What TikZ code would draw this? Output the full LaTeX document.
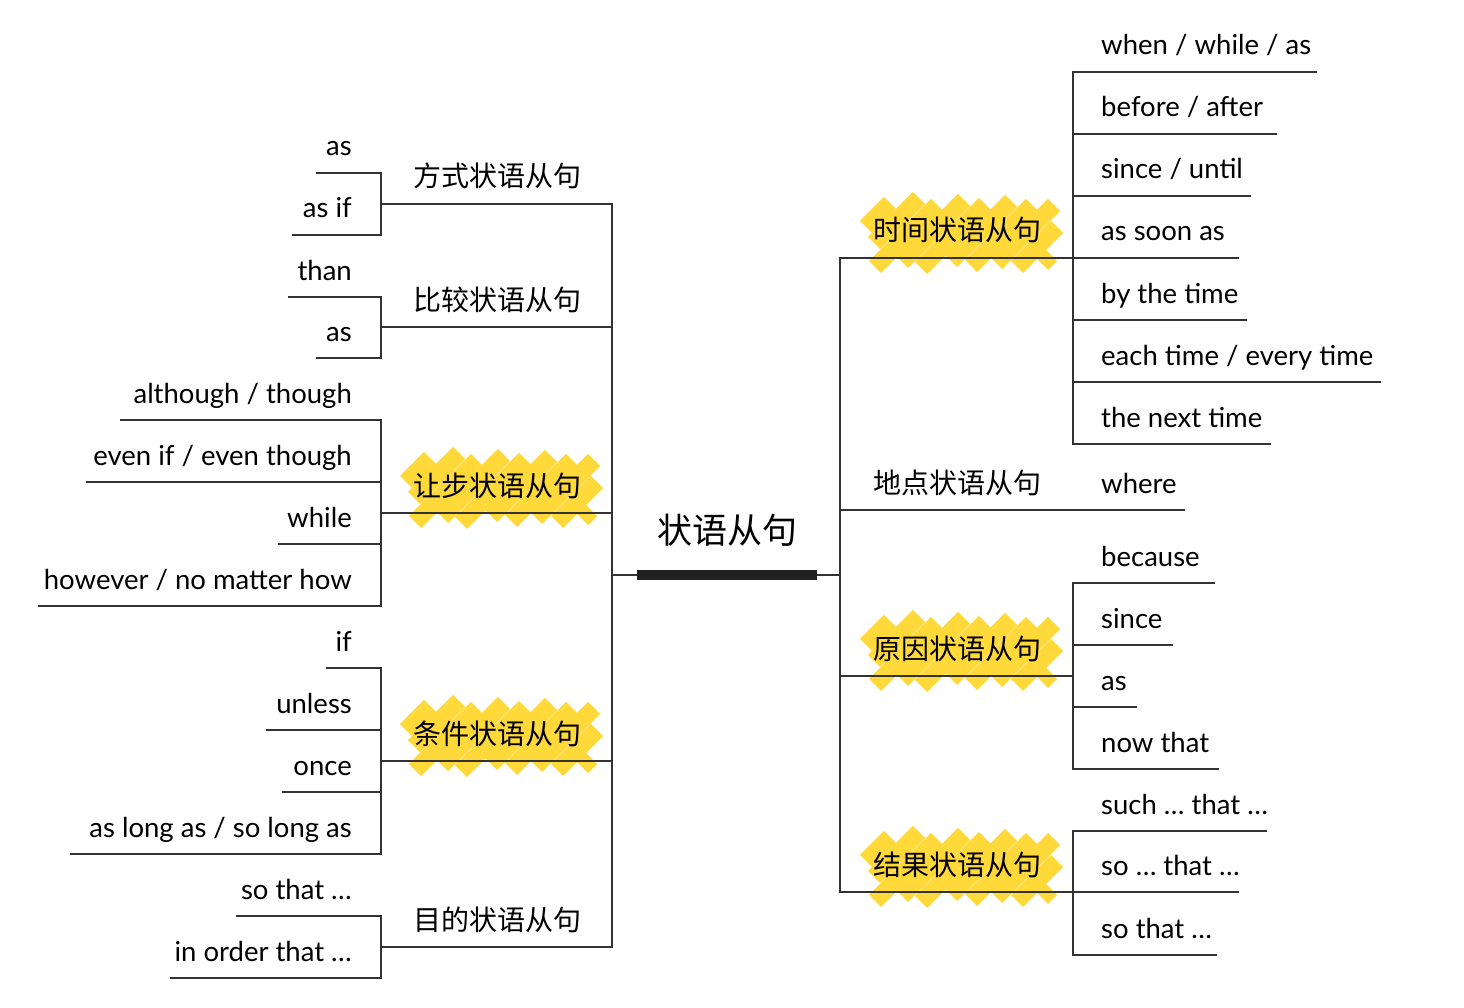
\documentclass[tikz,border=0pt]{standalone}
\usepackage{fontspec}
\setmainfont{Lato}
\newfontfamily\cjk{Noto Sans CJK SC}
\definecolor{lnc}{HTML}{333333}
\definecolor{hlc}{HTML}{FFD83A}
\newcommand\hlmark[1]{%
  \begin{scope}[shift={(#1)}]
    \foreach \xc/\ra/\rb/\rc/\rd in {-98/3/2/0/6,-74/0/7/8/0,-49/6/0/2/3,-27/1/5/0/0,-2/7/1/3/2,21/0/4/0/7,46/5/0/2/0,68/2/7/0/3,93/6/2/5/0,115/3/0/0/6}{
      \pgfmathsetmacro\hb{min(28+\ra, \xc+92-\rc)}
      \pgfmathsetmacro\htp{min(28+\rb, 99-\xc-\rd)}
      \pgfmathsetmacro\lenx{\hb+\htp}
      \pgfmathsetmacro\bx{\xc-(\hb)}
      \pgfmathsetmacro\tx{\xc+\htp}
      \pgfmathsetmacro\ty{0-(\htp)}
      \ifdim\lenx pt>8pt \draw[hlstroke] (\bx,\hb) -- (\tx,\ty); \fi
    }
  \end{scope}}
\begin{document}
\begin{tikzpicture}[x=1pt,y=-1pt,
  conn/.style={draw=lnc, line width=2.4pt, line cap=rect},
  bar/.style={draw=black!87, line width=10pt},
  hlstroke/.style={draw=hlc, line width=17pt},
  lt/.style={font=\fontsize{27.5}{32}\selectfont, anchor=base east, inner sep=0pt},
  rt/.style={font=\fontsize{27.5}{32}\selectfont, anchor=base west, inner sep=0pt},
  br/.style={font=\cjk\fontsize{28}{34}\selectfont, anchor=base, inner sep=0pt},
  ctr/.style={font=\cjk\fontsize{35}{40}\selectfont, anchor=base, inner sep=0pt}]
\useasboundingbox (0,0) rectangle (1464,1008);
\fill[white] (0,0) rectangle (1464,1008);

% highlights
\hlmark{958,233}
\hlmark{498,488}
\hlmark{498,736}
\hlmark{958,651}
\hlmark{958,867}

% hub
\coordinate (hubL) at (612,575);
\coordinate (hubR) at (840,575);
\coordinate (barA) at (637,575);
\coordinate (barB) at (817,575);
\draw[conn] (hubL) -- (hubR);
\draw[bar] (barA) -- (barB);
\node[ctr] (root) at (727,543) {状语从句};

% left branches
\foreach \n/\y in {1/204,2/327,3/513,4/761,5/947}{
  \coordinate (jL\n) at (612,\y);
  \coordinate (bL\n) at (381,\y);
  \draw[conn] (bL\n) -- (jL\n);
}
\draw[conn] (jL1) -- (jL5);
\node[br] (l1) at (497,187) {方式状语从句};
\node[br] (l2) at (497,310) {比较状语从句};
\node[br] (l3) at (497,496) {让步状语从句};
\node[br] (l4) at (497,744) {条件状语从句};
\node[br] (l5) at (497,930) {目的状语从句};

% left children
\foreach \id/\x/\y/\t in {
  a1/317/173/{as}, a2/293/235/{as if},
  b1/289/297/{than}, b2/317/358/{as},
  c1/121/420/{although / though}, c2/87/482/{even if / even though}, c3/279/544/{while}, c4/39/606/{however / no matter how},
  d1/327/668/{if}, d2/267/730/{unless}, d3/283/792/{once}, d4/71/854/{as long as / so long as},
  e1/237/916/{so that …}, e2/171/978/{in order that …}}{
  \coordinate (s\id) at (\x,\y);
  \coordinate (t\id) at (381,\y);
  \draw[conn] (s\id) -- (t\id);
  \node[lt] (n\id) at (352,\y-17) {\t};
}
\draw[conn] (ta1) -- (ta2);
\draw[conn] (tb1) -- (tb2);
\draw[conn] (tc1) -- (tc4);
\draw[conn] (td1) -- (td4);
\draw[conn] (te1) -- (te2);

% right branches
\foreach \n/\y in {1/258,2/510,3/676,4/892}{
  \coordinate (jR\n) at (840,\y);
  \coordinate (bR\n) at (1073,\y);
  \draw[conn] (jR\n) -- (bR\n);
}
\draw[conn] (jR1) -- (jR4);
\node[br] (r1) at (957,241) {时间状语从句};
\node[br] (r2) at (957,493) {地点状语从句};
\node[br] (r3) at (957,659) {原因状语从句};
\node[br] (r4) at (957,875) {结果状语从句};

% right children
\foreach \id/\x/\y/\t in {
  f1/1316/72/{when / while / as}, f2/1276/134/{before / after}, f3/1250/196/{since / until}, f4/1238/258/{as soon as},
  f5/1246/320/{by the time}, f6/1380/382/{each time / every time}, f7/1270/444/{the next time},
  g1/1184/510/{where},
  h1/1214/583/{because}, h2/1172/645/{since}, h3/1136/707/{as}, h4/1218/769/{now that},
  k1/1266/831/{such … that …}, k2/1238/892/{so … that …}, k3/1216/955/{so that …}}{
  \coordinate (u\id) at (1073,\y);
  \coordinate (v\id) at (\x,\y);
  \draw[conn] (u\id) -- (v\id);
  \node[rt] (m\id) at (1101,\y-17) {\t};
}
\draw[conn] (uf1) -- (uf7);
\draw[conn] (uh1) -- (uh4);
\draw[conn] (uk1) -- (uk3);
\end{tikzpicture}
\end{document}
